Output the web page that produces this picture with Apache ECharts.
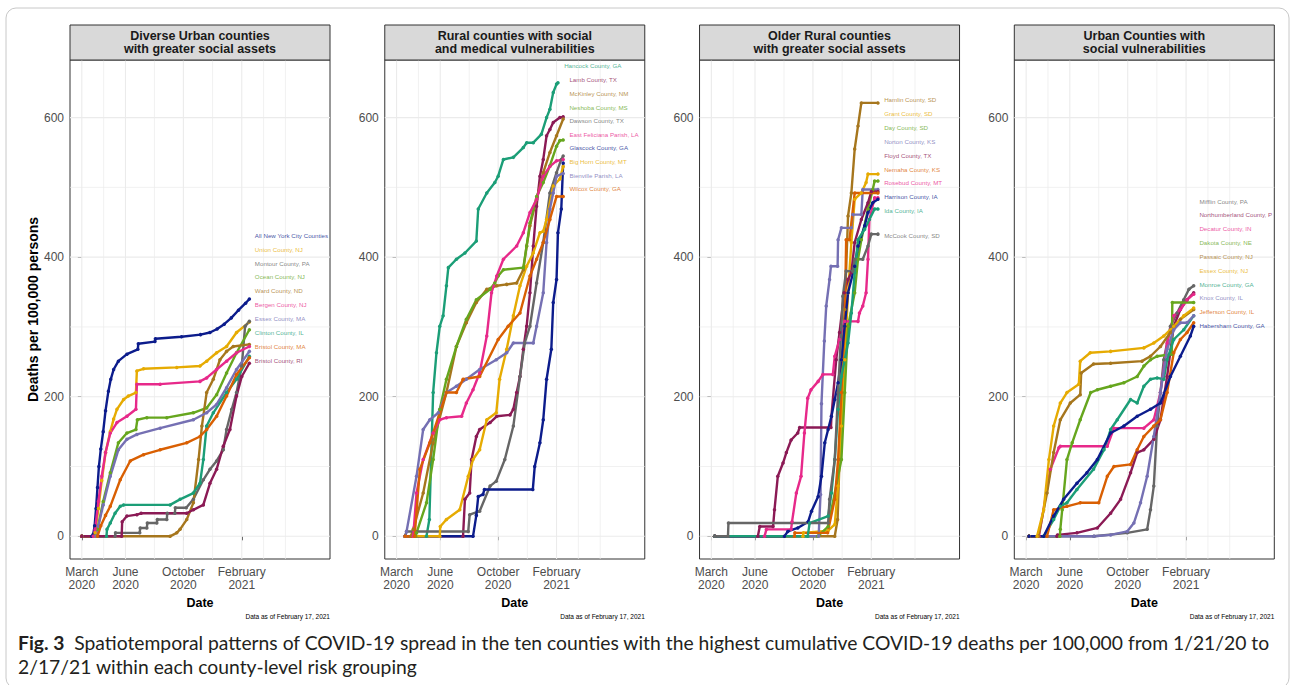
<!DOCTYPE html>
<html><head><meta charset="utf-8">
<script src="https://cdn.jsdelivr.net/npm/echarts@6/dist/echarts.min.js"></script>
<style>html,body{margin:0;padding:0;background:#fff}#c{width:1295px;height:685px}</style>
</head><body><div id="c"></div>
<script>
// ---------- DATA (x = days since 2020-03-01, y = deaths per 100,000) ----------
const xTickDays = [0, 92, 214, 337];
const xTickLabels = ['March\n2020', 'June\n2020', 'October\n2020', 'February\n2021'];
const yTickValues = [0, 200, 400, 600];
const xMajorGrid = [0, 92, 214, 337];
const xMinorGrid = [46, 153, 275.5, 383, 429];
const yMajorGrid = [0, 200, 400, 600];
const yMinorGrid = [100, 300, 500];

const panelTitles = [
  'Diverse Urban counties\nwith greater social assets',
  'Rural counties with social\nand medical vulnerabilities',
  'Older Rural counties\nwith greater social assets',
  'Urban Counties with\nsocial vulnerabilities'
];

const p1Names = ['All New York City Counties, NY','Union County, NJ','Montour County, PA','Ocean County, NJ','Ward County, ND','Bergen County, NJ','Essex County, MA','Clinton County, IL','Bristol County, MA','Bristol County, RI'];
const p1Data = [
  [[0,0],[21,0],[24,3],[27,15],[30,40],[33,70],[36,100],[40,125],[45,150],[50,180],[56,208],[61,225],[67,239],[77,251],[95,261],[118,268],[119,276],[154,279],[155,283],[210,286],[250,289],[270,292],[285,297],[300,304],[315,313],[330,324],[345,334],[353,340]],
  [[0,0],[26,0],[28,5],[35,40],[42,80],[50,120],[60,150],[67,168],[74,182],[88,196],[98,201],[114,206],[116,237],[130,240],[200,242],[249,244],[263,251],[284,263],[305,272],[326,292],[353,307]],
  [[0,0],[70,0],[71,5],[122,5],[123,12],[137,12],[138,19],[158,19],[159,24],[179,24],[180,33],[196,33],[197,41],[220,41],[235,53],[256,81],[270,96],[284,108],[298,124],[305,153],[316,182],[326,206],[337,244],[344,301],[353,308]],
  [[0,0],[30,0],[33,10],[45,50],[60,91],[77,134],[95,148],[114,153],[117,167],[137,170],[179,170],[235,177],[263,184],[284,203],[305,234],[326,263],[353,296]],
  [[0,0],[186,0],[200,5],[207,10],[221,24],[235,48],[246,110],[253,158],[263,206],[277,225],[291,253],[305,265],[319,272],[353,275]],
  [[0,0],[24,0],[28,10],[35,50],[42,86],[50,120],[60,148],[74,163],[95,172],[114,182],[116,218],[165,218],[249,222],[263,227],[284,239],[305,251],[326,263],[353,272]],
  [[0,0],[30,0],[35,15],[45,45],[60,86],[77,124],[95,139],[116,146],[165,155],[235,167],[263,177],[284,189],[305,213],[326,239],[353,265]],
  [[0,0],[52,0],[53,10],[60,19],[70,33],[81,43],[88,45],[186,45],[207,53],[235,62],[249,76],[256,110],[263,158],[277,177],[305,206],[326,225],[353,258]],
  [[0,0],[33,0],[40,15],[50,30],[60,43],[81,81],[102,108],[130,117],[165,124],[221,134],[249,143],[263,153],[284,172],[305,201],[326,232],[353,256]],
  [[0,0],[84,0],[85,21],[95,29],[116,31],[125,33],[221,33],[235,38],[256,45],[270,76],[284,96],[298,129],[312,153],[326,201],[337,229],[353,248]]
];

const p2Names = ['Hancock County, GA','Lamb County, TX','McKinley County, NM','Neshoba County, MS','Dawson County, TX','East Feliciana Parish, LA','Glascock County, GA','Big Horn County, MT','Bienville Parish, LA','Wilcox County, GA'];
const p2Data = [
  [[18,0],[63,0],[69,24],[77,206],[84,263],[91,301],[98,316],[105,359],[109,385],[126,397],[144,406],[168,423],[172,469],[190,492],[207,507],[214,516],[225,540],[246,543],[267,557],[274,564],[288,564],[305,576],[316,600],[323,612],[330,636],[337,648],[340,650]],
  [[18,0],[140,0],[144,53],[154,62],[158,110],[168,143],[175,153],[197,163],[211,172],[239,174],[246,182],[253,206],[260,229],[267,268],[274,301],[281,349],[288,416],[295,473],[302,516],[309,540],[316,574],[323,583],[330,593],[344,600],[351,601]],
  [[18,0],[30,0],[35,10],[56,62],[77,134],[105,206],[126,272],[147,306],[168,335],[190,354],[211,359],[232,361],[253,363],[267,382],[274,416],[281,445],[295,483],[309,521],[323,550],[337,574],[351,598]],
  [[18,0],[40,0],[42,5],[63,48],[77,110],[91,182],[105,225],[126,272],[147,311],[168,339],[197,354],[207,363],[214,373],[225,382],[267,385],[274,416],[281,449],[295,487],[309,507],[323,531],[337,559],[344,567],[351,568]],
  [[18,0],[21,7],[151,7],[154,31],[175,36],[197,72],[210,79],[228,110],[246,158],[260,229],[270,277],[281,301],[295,363],[309,421],[323,492],[337,521],[347,540],[351,545]],
  [[18,0],[35,0],[42,62],[56,110],[77,148],[91,167],[105,170],[137,172],[147,191],[161,210],[175,234],[190,287],[200,349],[211,373],[225,397],[253,416],[267,435],[281,464],[295,483],[309,516],[323,530],[337,538],[351,540]],
  [[18,0],[161,0],[168,30],[172,57],[182,60],[185,67],[287,67],[291,100],[302,134],[309,167],[316,225],[326,268],[330,335],[337,368],[340,435],[347,469],[351,535]],
  [[18,0],[91,0],[92,14],[105,24],[133,38],[151,86],[161,110],[175,124],[190,167],[210,177],[217,225],[232,268],[246,316],[260,359],[274,387],[288,406],[302,435],[309,437],[316,454],[330,502],[344,512],[351,530]],
  [[18,0],[21,7],[42,86],[56,153],[70,167],[88,177],[105,206],[126,215],[147,225],[175,239],[210,253],[232,263],[246,277],[288,277],[295,301],[309,349],[316,421],[323,469],[330,492],[337,516],[351,520]],
  [[18,0],[38,0],[49,96],[70,134],[105,206],[126,206],[140,225],[175,229],[214,282],[235,301],[260,320],[281,373],[295,397],[309,421],[323,454],[337,487],[351,487]]
];

const p3Names = ['Hamlin County, SD','Grant County, SD','Day County, SD','Norton County, KS','Floyd County, TX','Nemaha County, KS','Rosebud County, MT','Harrison County, IA','Ida County, IA','McCook County, SD'];
const p3Data = [
  [[7,0],[260,0],[266,24],[270,110],[275,253],[281,325],[288,459],[295,492],[302,555],[309,588],[316,621],[351,621]],
  [[7,0],[193,0],[194,5],[246,8],[260,17],[267,72],[274,158],[281,253],[288,349],[295,421],[302,483],[316,492],[326,507],[330,519],[351,519]],
  [[7,0],[224,0],[246,14],[274,110],[281,206],[288,301],[302,349],[309,397],[316,425],[330,469],[340,497],[344,509],[351,509]],
  [[7,0],[226,0],[230,60],[232,190],[238,280],[242,330],[249,368],[252,387],[266,387],[267,425],[274,442],[295,442],[298,461],[316,461],[319,497],[351,497]],
  [[7,0],[98,0],[102,14],[130,14],[133,38],[140,86],[151,105],[158,120],[168,138],[182,148],[186,156],[252,156],[253,172],[263,253],[270,292],[280,349],[288,368],[295,378],[302,421],[316,454],[330,478],[337,494],[351,494]],
  [[7,0],[175,0],[176,5],[245,5],[260,53],[267,110],[274,206],[281,301],[284,425],[291,425],[302,492],[351,492]],
  [[7,0],[112,0],[116,10],[168,10],[170,21],[179,62],[189,86],[196,148],[203,198],[210,210],[225,222],[235,232],[256,232],[260,258],[270,282],[281,308],[309,308],[312,320],[319,330],[326,349],[330,397],[333,454],[344,485],[351,485]],
  [[7,0],[154,0],[161,7],[182,12],[204,21],[211,36],[225,57],[232,86],[239,134],[246,153],[253,172],[260,196],[267,220],[274,253],[281,301],[288,349],[302,387],[309,416],[323,445],[330,464],[340,478],[351,483]],
  [[7,0],[203,0],[207,19],[246,29],[253,62],[260,110],[267,182],[274,229],[288,277],[295,320],[302,378],[309,425],[323,440],[333,454],[344,469],[351,469]],
  [[7,0],[35,0],[36,19],[246,19],[249,53],[260,110],[267,206],[274,301],[277,344],[284,380],[298,380],[302,397],[319,397],[330,416],[337,433],[351,433]]
];

const p4Names = ['Mifflin County, PA','Northumberland County, PA','Decatur County, IN','Dakota County, NE','Passaic County, NJ','Essex County, NJ','Monroe County, GA','Knox County, IL','Jefferson County, IL','Habersham County, GA'];
const p4Data = [
  [[6,0],[143,0],[213,5],[255,10],[262,38],[269,72],[276,158],[283,206],[290,253],[304,301],[318,320],[332,339],[343,354],[353,359]],
  [[6,0],[65,0],[66,2],[107,5],[150,12],[178,33],[199,53],[220,91],[234,120],[248,124],[269,139],[283,167],[297,229],[311,301],[325,325],[339,339],[353,349]],
  [[6,0],[27,0],[51,96],[69,127],[72,129],[171,129],[185,155],[248,155],[269,167],[283,206],[297,277],[311,316],[325,325],[339,339],[353,347]],
  [[6,0],[71,0],[72,10],[76,38],[86,110],[97,134],[114,167],[136,206],[150,210],[178,215],[206,220],[234,229],[248,244],[262,253],[276,258],[307,261],[308,335],[353,335]],
  [[6,0],[26,0],[44,62],[58,120],[72,167],[93,191],[114,203],[116,234],[142,247],[178,248],[244,251],[262,258],[283,272],[304,292],[325,311],[353,325]],
  [[6,0],[23,0],[37,38],[48,110],[58,158],[72,191],[86,206],[111,218],[114,251],[135,263],[178,265],[248,270],[269,277],[290,287],[311,301],[332,316],[353,327]],
  [[6,0],[37,0],[58,24],[72,43],[86,48],[107,67],[142,96],[164,124],[178,153],[192,167],[220,196],[234,191],[248,215],[262,225],[276,227],[290,225],[297,253],[311,282],[332,296],[353,316]],
  [[6,0],[143,0],[178,2],[213,7],[227,19],[241,48],[255,86],[269,143],[283,206],[297,268],[311,296],[325,306],[339,306],[353,316]],
  [[6,0],[44,0],[58,38],[86,43],[114,48],[153,48],[171,86],[185,100],[220,103],[234,124],[248,143],[269,158],[283,167],[297,206],[311,263],[325,282],[339,292],[353,306]],
  [[6,0],[37,0],[58,29],[79,53],[107,76],[128,91],[150,110],[178,148],[206,158],[234,172],[262,182],[283,191],[304,229],[325,258],[346,287],[353,301]]
];

// label anchor positions (data units) for the repelled county labels
const p1LabelY = [431, 411, 391, 372, 352, 332, 312, 292, 272, 252];
const p2LabelY = [674, 655, 635, 615, 596, 576, 557, 537, 517, 498];
const p3LabelY = [626, 606, 586, 566, 546, 526, 507, 487, 467, 431];
const p4LabelY = [480, 461, 441, 421, 401, 381, 361, 342, 322, 302];
const p1LabelX = [363.5,363.5,363.5,363.5,363.5,363.5,363.5,363.5,363.5,363.5];
const p2LabelX = [352,363,363,363,363,363,363,363,363,363];
const p3LabelX = [363,363,363,363,363,363,363,363,363,363];
const p4LabelX = [364,364,364,364,364,364,364,364,364,364];

// ---------- STYLE ----------
const C = {navy:'#0c1c8c', gold:'#E6AB02', gray:'#666666', green:'#66A61E', brown:'#A6761D',
           pink:'#E7298A', lav:'#7570B3', teal:'#1B9E77', orange:'#D95F02', maroon:'#8B1A55'};
const p1Colors = [C.navy,C.gold,C.gray,C.green,C.brown,C.pink,C.lav,C.teal,C.orange,C.maroon];
const p2Colors = [C.teal,C.maroon,C.brown,C.green,C.gray,C.pink,C.navy,C.gold,C.lav,C.orange];
const p3Colors = [C.brown,C.gold,C.green,C.lav,C.maroon,C.orange,C.pink,C.navy,C.teal,C.gray];
const p4Colors = [C.gray,C.maroon,C.pink,C.green,C.brown,C.gold,C.teal,C.lav,C.orange,C.navy];

const FONT = "'Liberation Sans', Arial, Helvetica, sans-serif";
const X_MIN = -24.9, X_MAX = 522.9, Y_MIN = -32.5, Y_MAX = 682.5;
const GRID_TOP = 60, GRID_H = 499, GRID_W = 260, STEP = 314.77, LEFT0 = 70;

const panels = [
  {names:p1Names, data:p1Data, colors:p1Colors, ly:p1LabelY, lx:p1LabelX},
  {names:p2Names, data:p2Data, colors:p2Colors, ly:p2LabelY, lx:p2LabelX},
  {names:p3Names, data:p3Data, colors:p3Colors, ly:p3LabelY, lx:p3LabelX},
  {names:p4Names, data:p4Data, colors:p4Colors, ly:p4LabelY, lx:p4LabelX}
];

const grids = [], xAxes = [], yAxes = [], series = [], graphics = [];

graphics.push({type:'rect', shape:{x:6, y:8, width:1283, height:680, r:10},
  style:{fill:'none', stroke:'#c8c8c8', lineWidth:1}, z:0});

panels.forEach((p, i) => {
  const left = LEFT0 + i * STEP;
  grids.push({left:left, top:GRID_TOP, width:GRID_W, height:GRID_H, show:true,
    borderColor:'#333333', borderWidth:1, backgroundColor:'#ffffff', containLabel:false});
  xAxes.push({type:'value', gridIndex:i, min:X_MIN, max:X_MAX,
    axisLine:{show:false}, splitLine:{show:false},
    axisTick:{show:true, customValues:xTickDays, length:4, lineStyle:{color:'#333333'}},
    axisLabel:{show:true, customValues:xTickDays, margin:6, color:'#4d4d4d', fontSize:12,
      lineHeight:13.5, fontFamily:FONT,
      formatter: v => { const k = xTickDays.indexOf(v); return k >= 0 ? xTickLabels[k] : ''; }},
    name:'Date', nameLocation:'middle', nameGap:30,
    nameTextStyle:{fontWeight:'bold', fontSize:12.5, color:'#000', fontFamily:FONT}});
  yAxes.push({type:'value', gridIndex:i, min:Y_MIN, max:Y_MAX,
    axisLine:{show:false}, splitLine:{show:false},
    axisTick:{show:true, customValues:yTickValues, length:4, lineStyle:{color:'#333333'}},
    axisLabel:{show:true, customValues:yTickValues, margin:6, color:'#4d4d4d', fontSize:12, fontFamily:FONT},
    name: i === 0 ? 'Deaths per 100,000 persons' : '', nameLocation:'middle', nameGap:29,
    nameTextStyle:{fontWeight:'bold', fontSize:14, color:'#000', fontFamily:FONT}});

  // grid lines
  const gl = (pts, w) => series.push({type:'line', xAxisIndex:i, yAxisIndex:i, data:pts,
    symbol:'none', silent:true, animation:false, z:1, lineStyle:{color:'#ebebeb', width:w}});
  xMinorGrid.forEach(d => gl([[d,Y_MIN],[d,Y_MAX]], 0.7));
  yMinorGrid.forEach(v => gl([[X_MIN,v],[X_MAX,v]], 0.7));
  xMajorGrid.forEach(d => gl([[d,Y_MIN],[d,Y_MAX]], 1.1));
  yMajorGrid.forEach(v => gl([[X_MIN,v],[X_MAX,v]], 1.1));

  // county lines
  p.data.forEach((d, k) => {
    series.push({type:'line', name:p.names[k], xAxisIndex:i, yAxisIndex:i, data:d,
      showSymbol:true, symbol:'circle', symbolSize:3.5, animation:false, silent:true, z:3,
      lineStyle:{color:p.colors[k], width:2.4}, itemStyle:{color:p.colors[k]}});
  });

  // county labels
  series.push({type:'scatter', xAxisIndex:i, yAxisIndex:i, symbol:'circle', symbolSize:1,
    itemStyle:{color:'rgba(0,0,0,0)'}, silent:true, animation:false, z:5,
    data: p.names.map((n, k) => ({name:n, value:[p.lx[k], p.ly[k]],
      label:{color:p.colors[k], width:(X_MAX - p.lx[k]) * GRID_W / (X_MAX - X_MIN)}})),
    label:{show:true, position:'right', distance:0, formatter:'{b}', fontSize:6.2,
      fontFamily:FONT, overflow:'truncate', ellipsis:''}});

  // strip header
  graphics.push({type:'rect', shape:{x:left, y:25, width:GRID_W, height:35},
    style:{fill:'#d9d9d9', stroke:'#333333', lineWidth:1}, z:10});
  graphics.push({type:'text', x:left + GRID_W/2, y:42.5, z:11,
    style:{text:panelTitles[i], align:'center', verticalAlign:'middle', fill:'#1a1a1a',
      font:'bold 12.5px ' + FONT, lineHeight:13.5}});
  graphics.push({type:'text', x:left + GRID_W, y:616, z:11,
    style:{text:'Data as of February 17, 2021', align:'right', verticalAlign:'middle',
      fill:'#000', font:'6.5px ' + FONT}});
});

graphics.push({type:'text', x:18, y:642, z:11, style:{
  text:'{b|Fig. 3}  Spatiotemporal patterns of COVID-19 spread in the ten counties with the highest cumulative COVID-19 deaths per 100,000 from 1/21/20 to',
  verticalAlign:'middle', fill:'#231f20', font:'19.3px Lato, sans-serif',
  rich:{b:{fontWeight:'bold', fontSize:19.3, fontFamily:'Lato, sans-serif', fill:'#231f20'}}}});
graphics.push({type:'text', x:18, y:666, z:11, style:{
  text:'2/17/21 within each county-level risk grouping', verticalAlign:'middle',
  fill:'#231f20', font:'19.3px Lato, sans-serif'}});

const chart = echarts.init(document.getElementById('c'), null, {renderer:'svg', width:1295, height:685});
chart.setOption({animation:false, backgroundColor:'#fff', textStyle:{fontFamily:FONT},
  grid:grids, xAxis:xAxes, yAxis:yAxes, series:series, graphic:graphics});
</script></body></html>
